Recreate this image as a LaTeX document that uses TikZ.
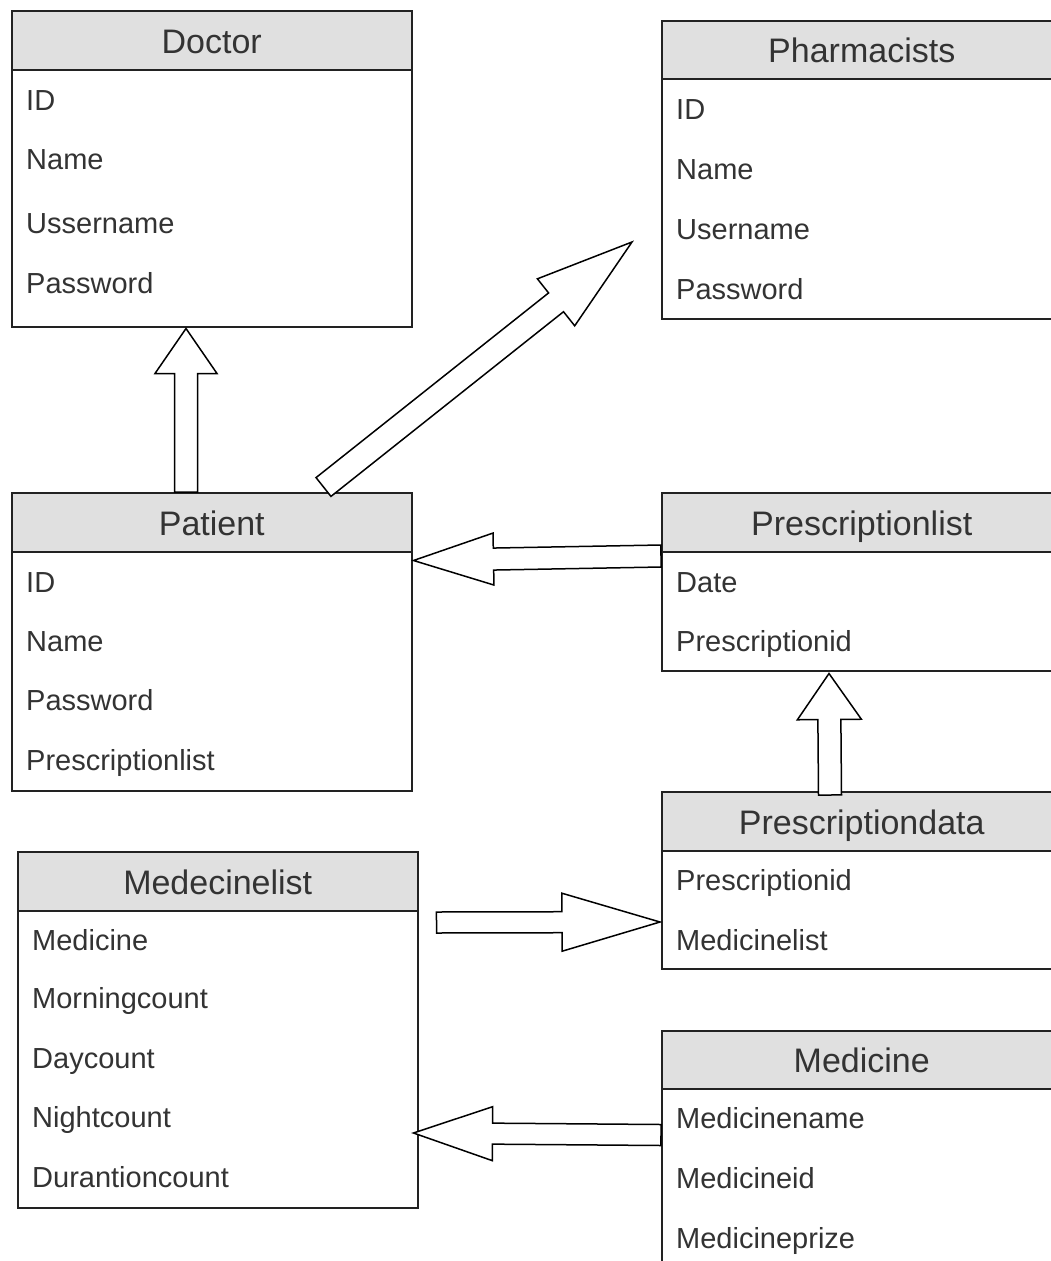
\documentclass[tikz,border=0pt]{standalone}
\usepackage{fontspec}
\setmainfont{Liberation Sans}
\usetikzlibrary{calc}
\definecolor{hdrgray}{HTML}{E0E0E0}
\definecolor{txtgray}{HTML}{333333}
\definecolor{linegray}{HTML}{222222}
\tikzset{
  hdr/.style={draw=linegray, line width=1.5pt, fill=hdrgray, anchor=north west, inner sep=0pt, minimum width=400pt},
  bodybox/.style={draw=linegray, line width=1.5pt, fill=white, anchor=north west, inner sep=0pt, minimum width=400pt},
  title/.style={anchor=base, inner sep=0pt, text=txtgray, font=\fontsize{34}{40}\selectfont},
  field/.style={anchor=base west, inner sep=0pt, text=txtgray, font=\fontsize{29}{34}\selectfont},
  blk/.style={draw=black, line width=1.5pt, fill=white, line join=miter},
}
% #1 name, #2 x, #3 top, #4 header bottom, #5 bottom, #6 title, #7 rows (baseline/text)
\newcommand{\ent}[7]{%
  \node[bodybox, minimum height={(#5-#4)*1pt}] (#1B) at (#2,#4) {};
  \node[hdr, minimum height={(#4-#3)*1pt}] (#1H) at (#2,#3) {};
  \node[title] (#1T) at ($(#1H.center)+(0,13)$) {#6};
  \foreach \yy/\lbl [count=\i] in {#7} {\node[field] (#1F\i) at (#2+15,\yy) {\lbl};}
}
% #1 tail, #2 tip, #3 shaft half width, #4 head half width, #5 head length
\newcommand{\blockarrow}[5]{%
  \coordinate (bac) at ($(#2)!#5pt!(#1)$);
  \draw[blk] ($(#1)!#3pt!90:(#2)$) -- ($(bac)!#3pt!-90:(#1)$) -- ($(bac)!#4pt!-90:(#1)$) -- (#2)
    -- ($(bac)!#4pt!90:(#1)$) -- ($(bac)!#3pt!90:(#1)$) -- ($(#1)!#3pt!-90:(#2)$) -- cycle;
}
\begin{document}
\begin{tikzpicture}[x=1pt,y=-1pt]
\useasboundingbox (0,0) rectangle (1051,1261);
\fill[white] (0,0) rectangle (1051,1261);
\clip (0,0) rectangle (1051,1261);

\ent{doctor}{11}{10}{69}{326}{Doctor}{110/ID,169/Name,233/Ussername,293/Password}
\ent{pharm}{661}{20}{78}{318}{Pharmacists}{119/ID,179/Name,239/Username,299/Password}
\ent{patient}{11}{492}{551}{790}{Patient}{592/ID,651/Name,710/Password,770/Prescriptionlist}
\ent{plist}{661}{492}{551}{670}{Prescriptionlist}{592/Date,651/Prescriptionid}
\ent{pdata}{661}{791}{850}{968}{Prescriptiondata}{890/Prescriptionid,950/Medicinelist}
\ent{medlist}{17}{851}{910}{1207}{Medecinelist}{950/Medicine,1008/Morningcount,1068/Daycount,1127/Nightcount,1187/Durantioncount}
\ent{med}{661}{1030}{1088}{1290}{Medicine}{1128/Medicinename,1188/Medicineid,1248/Medicineprize}

% connector end points, placed from the nodes
\coordinate (a1t) at ($(patientH.north west)+(175,0)$);
\coordinate (a1h) at ($(doctorB.south west)+(175,1)$);
\coordinate (a2t) at ($(patientH.north west)+(312.5,-5)$);
\coordinate (a2h) at ($(pharmB.north west)+(-29,164)$);
\coordinate (a3t) at ($(plistH.south west)+(0,3.5)$);
\coordinate (a3h) at ($(patientH.south east)+(1,8)$);
\coordinate (a4t) at ($(pdataH.north west)+(169,4)$);
\coordinate (a4h) at ($(plistB.south west)+(168,2)$);
\coordinate (a5t) at ($(medlistB.north east)+(18,12.5)$);
\coordinate (a5h) at ($(pdataB.north west)+(-1,72)$);
\coordinate (a6t) at ($(medH.south west)+(0,45.5)$);
\coordinate (a6h) at ($(medlistB.north east)+(-5,223)$);

\blockarrow{a1t}{a1h}{11.5}{31}{45}
\blockarrow{a2t}{a2h}{12}{30}{97}
\blockarrow{a3t}{a3h}{11}{26}{80}
\blockarrow{a4t}{a4h}{11.5}{32}{46}
\blockarrow{a5t}{a5h}{10.5}{29}{98}
\blockarrow{a6t}{a6h}{10.5}{27}{79}
\end{tikzpicture}
\end{document}
